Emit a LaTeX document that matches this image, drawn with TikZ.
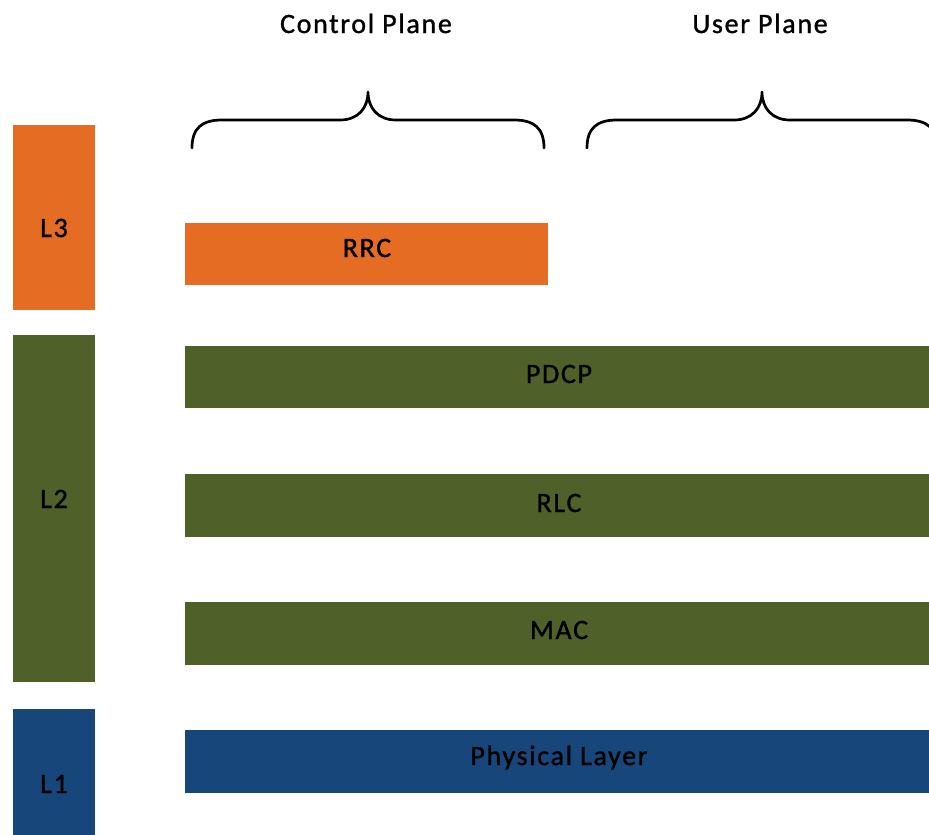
\documentclass[tikz,border=0pt]{standalone}
\usepackage{fontspec}
\setmainfont[LetterSpace=6,FakeBold=1.2]{Carlito}
\definecolor{lorange}{HTML}{E46C23}
\definecolor{lgreen}{HTML}{4F6129}
\definecolor{lblue}{HTML}{17477A}
\begin{document}
\begin{tikzpicture}[x=1pt,y=-1pt,
  lbl/.style={anchor=base,inner sep=0pt,font=\fontsize{28}{32}\selectfont,text=black},
  bracepath/.style={draw=black,line width=2.7pt,line cap=round,line join=round}]
\useasboundingbox (0,0) rectangle (929,835);
% left layer bars
\fill[lorange] (13,125) rectangle (95,310);
\fill[lgreen] (13,335) rectangle (95,682);
\fill[lblue] (13,709) rectangle (95,835);
% protocol boxes
\fill[lorange] (185,223) rectangle (548,285);
\fill[lgreen] (185,346) rectangle (929,408);
\fill[lgreen] (185,474) rectangle (929,537);
\fill[lgreen] (185,602) rectangle (929,665);
\fill[lblue] (185,730) rectangle (929,793);
% labels
\node[lbl] (l3) at (54,237) {L3};
\node[lbl] (l2) at (54,508) {L2};
\node[lbl] (l1) at (54,793) {L1};
\node[lbl] (rrc) at (367,257) {RRC};
\node[lbl] (pdcp) at (559,383) {PDCP};
\node[lbl] (rlc) at (559,512) {RLC};
\node[lbl] (mac) at (559,639) {MAC};
\node[lbl] (phy) at (559,765) {Physical Layer};
\node[lbl] (cp) at (366,33) {Control Plane};
\node[lbl] (up) at (760,33) {User Plane};
% braces
\draw[bracepath] (192,148) .. controls (192,128) and (202,120) .. (222,120) -- (340,120)
  .. controls (358,120) and (368,108) .. (368,92)
  .. controls (368,108) and (378,120) .. (396,120) -- (514,120)
  .. controls (534,120) and (544,128) .. (544,148);
\draw[bracepath] (587,148) .. controls (587,128) and (597,120) .. (617,120) -- (734,120)
  .. controls (752,120) and (762,108) .. (762,92)
  .. controls (762,108) and (772,120) .. (790,120) -- (907,120)
  .. controls (927,120) and (937,128) .. (937,148);
\end{tikzpicture}
\end{document}
